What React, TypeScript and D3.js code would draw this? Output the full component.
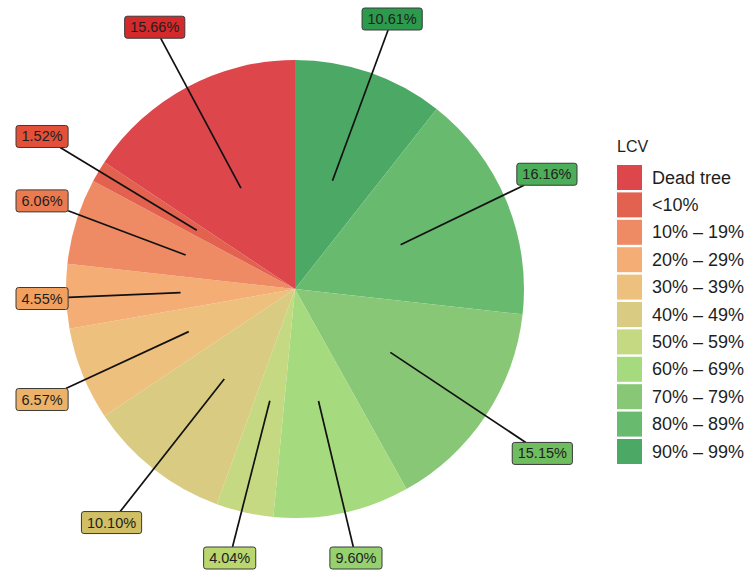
import React, { useMemo } from "react";
import * as d3 from "d3";

const legendTitle = "LCV";
const categories = [
  "Dead tree",
  "<10%",
  "10% – 19%",
  "20% – 29%",
  "30% – 39%",
  "40% – 49%",
  "50% – 59%",
  "60% – 69%",
  "70% – 79%",
  "80% – 89%",
  "90% – 99%",
];
const shares = [15.66, 1.52, 6.06, 4.55, 6.57, 10.1, 4.04, 9.6, 15.15, 16.16, 10.61];
const sliceColors = [
  "#dd464b",
  "#e3624f",
  "#ee8b64",
  "#f5ad76",
  "#eec07d",
  "#d9cb81",
  "#c5d983",
  "#a5da7e",
  "#88c776",
  "#68ba6f",
  "#4ba865",
];
const labelColors = [
  "#d42a2c",
  "#e2503a",
  "#ea7a50",
  "#f2a05e",
  "#ebb268",
  "#d0bf63",
  "#b9d66f",
  "#95d16e",
  "#6fbd5e",
  "#4cae58",
  "#2c9a4c",
];

const FONT = "'Liberation Sans', Arial, Helvetica, sans-serif";

function measure(text: string, size: number): number {
  if (typeof document === "undefined") return text.length * size * 0.55;
  const c = document.createElement("canvas");
  const ctx = c.getContext("2d");
  if (!ctx) return text.length * size * 0.55;
  ctx.font = `${size}px ${FONT}`;
  return ctx.measureText(text).width;
}

export default function App() {
  const W = 751;
  const H = 572;
  const cx = 295;
  const cy = 289;
  const R = 229;
  const labelR = 297;
  const innerR = R * 0.5;
  const labelFont = 14.5;
  const bh = 22;
  const bounds = { left: 16, right: 577, top: 8, bottom: 569 };

  const arcs = useMemo(() => {
    const order = d3.range(categories.length).reverse();
    return d3
      .pie<number>()
      .sort(null)
      .value((i) => shares[i])
      .startAngle(0)
      .endAngle(2 * Math.PI)(order);
  }, []);

  const arcGen = d3.arc<d3.PieArcDatum<number>>().innerRadius(0).outerRadius(R);

  const labels = arcs.map((a) => {
    const i = a.data;
    const text = shares[i].toFixed(2) + "%";
    const mid = (a.startAngle + a.endAngle) / 2;
    const px = Math.sin(mid) * innerR;
    const py = -Math.cos(mid) * innerR;
    const lx = Math.sin(mid) * labelR;
    const ly = -Math.cos(mid) * labelR;
    const bw = measure(text, labelFont) + 11;
    let left = cx + lx - bw / 2;
    let top = cy + ly - bh / 2;
    left = Math.max(bounds.left, Math.min(bounds.right - bw, left));
    top = Math.max(bounds.top, Math.min(bounds.bottom - bh, top));
    const ccx = left + bw / 2 - cx;
    const ccy = top + bh / 2 - cy;
    const dx = px - ccx;
    const dy = py - ccy;
    const s = Math.min(
      dx !== 0 ? bw / 2 / Math.abs(dx) : Infinity,
      dy !== 0 ? bh / 2 / Math.abs(dy) : Infinity
    );
    return {
      i,
      text,
      px,
      py,
      ex: ccx + dx * s,
      ey: ccy + dy * s,
      left: left - cx,
      top: top - cy,
      bw,
    };
  });

  const legendX = 617;
  const legendY0 = 165;
  const step = 27.4;
  const sw = 25;

  return (
    <svg
      width={W}
      height={H}
      style={{ position: "absolute", left: 0, top: 0, background: "#fff" }}
      fontFamily={FONT}
    >
      <g transform={`translate(${cx},${cy})`}>
        {arcs.map((a) => (
          <path key={a.data} d={arcGen(a) || ""} fill={sliceColors[a.data]} />
        ))}
        {labels.map((l) => (
          <line
            key={"l" + l.i}
            x1={l.px}
            y1={l.py}
            x2={l.ex}
            y2={l.ey}
            stroke="#111"
            strokeWidth={1.7}
          />
        ))}
        {labels.map((l) => (
          <g key={"b" + l.i}>
            <rect
              x={l.left}
              y={l.top}
              width={l.bw}
              height={bh}
              rx={2.5}
              fill={labelColors[l.i]}
              stroke="#3a3a3a"
              strokeWidth={1}
            />
            <text
              x={l.left + l.bw / 2}
              y={l.top + bh / 2}
              textAnchor="middle"
              dominantBaseline="central"
              fontSize={labelFont}
              fill="#1e1e1e"
            >
              {l.text}
            </text>
          </g>
        ))}
      </g>
      <g>
        <text x={legendX} y={152} fontSize={16} fill="#1e1e1e">
          {legendTitle}
        </text>
        {categories.map((c, i) => (
          <g key={c} transform={`translate(${legendX},${legendY0 + i * step})`}>
            <rect width={sw} height={sw} fill={sliceColors[i]} />
            <text
              x={35}
              y={sw / 2}
              dominantBaseline="central"
              fontSize={18}
              fill="#1e1e1e"
            >
              {c}
            </text>
          </g>
        ))}
      </g>
    </svg>
  );
}
